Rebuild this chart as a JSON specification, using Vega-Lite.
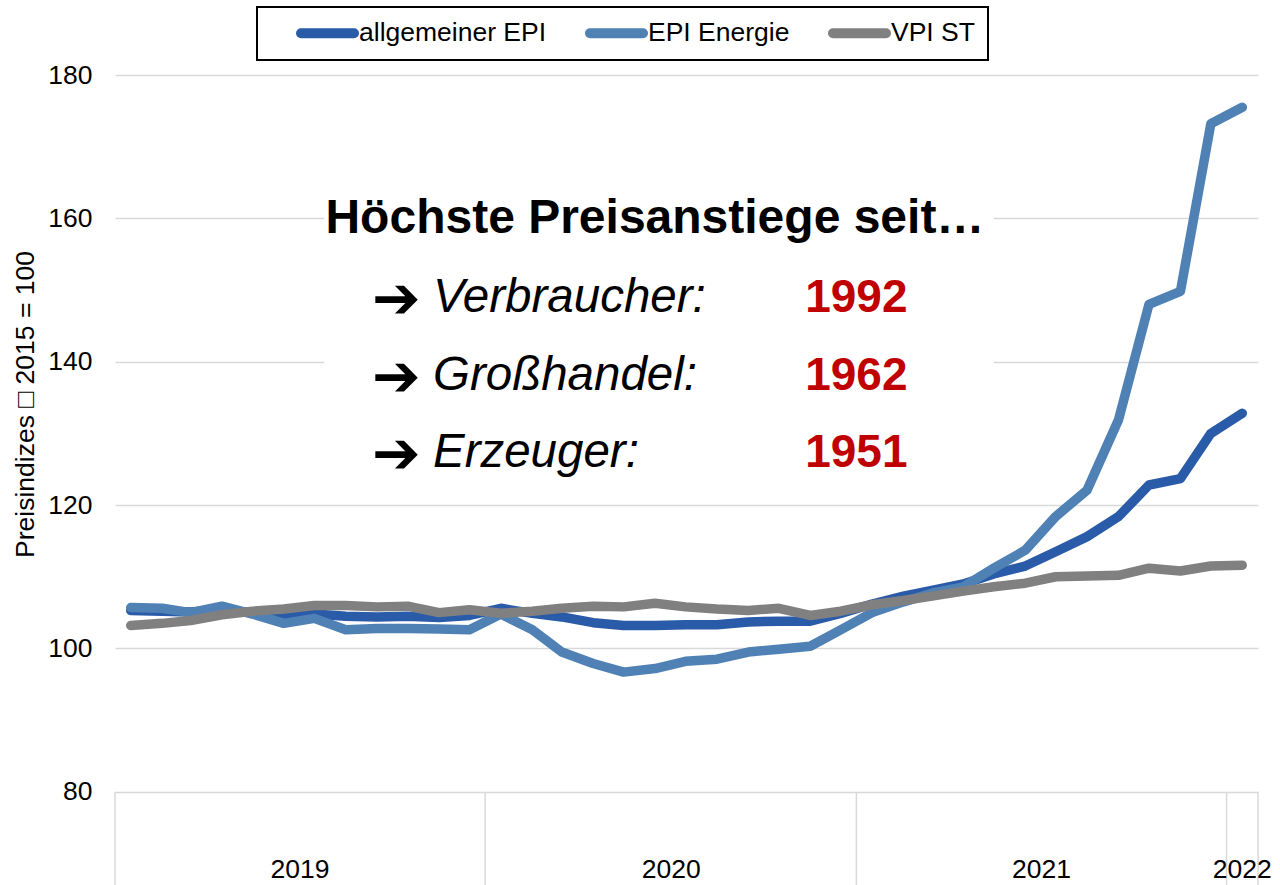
{
  "$schema": "https://vega.github.io/schema/vega-lite/v6.json",
  "width": 1143,
  "height": 810,
  "autosize": {"type": "none"},
  "padding": {"left": 115, "top": 75, "right": 22, "bottom": 0},
  "background": "white",
  "config": {"view": {"stroke": null}, "font": "Liberation Sans"},
  "layer": [
    {
      "data": {"values": [{}]},
      "mark": {"type": "rect", "fill": "white"},
      "encoding": {
        "x": {"datum": {"year": 2019, "month": 7, "date": 11, "utc": true}, "type": "temporal", "scale": {"type": "utc", "domain": [{"year": 2018, "month": 12, "date": 16, "hours": 12, "utc": true}, {"year": 2022, "month": 1, "date": 16, "hours": 12, "utc": true}]}, "axis": null},
        "x2": {"datum": {"year": 2021, "month": 5, "date": 1, "utc": true}},
        "y": {
          "datum": 164.6, "type": "quantitative", "scale": {"domain": [67, 180], "nice": false, "zero": false},
          "axis": {
            "values": [80, 100, 120, 140, 160, 180],
            "title": "Preisindizes □ 2015 = 100",
            "titleFontSize": 26.5, "titleFontWeight": "normal", "titleColor": "#000", "titleFont": "Liberation Sans",
            "titleAngle": -90, "titleX": -90, "titleY": 329, "titleAlign": "center", "titleBaseline": "middle",
            "labelFontSize": 26.5, "labelColor": "#000", "labelFont": "Liberation Sans", "labelPadding": 23,
            "domain": false, "ticks": false, "grid": true, "gridColor": "#D9D9D9", "gridWidth": 1.5
          }
        },
        "y2": {"datum": 123.5}
      }
    },
    {
      "data": {"values": [
        {"Grenze": "2018-12-16T12:00:00Z"},
        {"Grenze": "2019-12-16T12:00:00Z"},
        {"Grenze": "2020-12-16T12:00:00Z"},
        {"Grenze": "2021-12-16T12:00:00Z"},
        {"Grenze": "2022-01-16T12:00:00Z"}
      ]},
      "mark": {"type": "rule", "color": "#D9D9D9", "strokeWidth": 1.5},
      "encoding": {
        "x": {"field": "Grenze", "type": "temporal"},
        "y": {"datum": 80, "type": "quantitative"},
        "y2": {"datum": 67}
      }
    },
    {
      "data": {"values": [
        {"Jahr": "2019", "Mitte": "2019-06-17"},
        {"Jahr": "2020", "Mitte": "2020-06-17"},
        {"Jahr": "2021", "Mitte": "2021-06-17"},
        {"Jahr": "2022", "Mitte": "2022-01-01"}
      ]},
      "mark": {"type": "text", "fontSize": 26.5, "color": "#000", "baseline": "middle", "align": "center"},
      "encoding": {
        "x": {"field": "Mitte", "type": "temporal"},
        "y": {"datum": 69.06, "type": "quantitative"},
        "text": {"field": "Jahr"}
      }
    },
    {
      "data": {"values": [
        {"Monat": "2019-01-01", "allgemeiner EPI": 105.3, "EPI Energie": 105.7, "VPI ST": 103.2},
        {"Monat": "2019-02-01", "allgemeiner EPI": 105.2, "EPI Energie": 105.6, "VPI ST": 103.5},
        {"Monat": "2019-03-01", "allgemeiner EPI": 105.1, "EPI Energie": 105.0, "VPI ST": 103.9},
        {"Monat": "2019-04-01", "allgemeiner EPI": 105.4, "EPI Energie": 105.9, "VPI ST": 104.7},
        {"Monat": "2019-05-01", "allgemeiner EPI": 105.0, "EPI Energie": 104.8, "VPI ST": 105.2},
        {"Monat": "2019-06-01", "allgemeiner EPI": 104.7, "EPI Energie": 103.5, "VPI ST": 105.5},
        {"Monat": "2019-07-01", "allgemeiner EPI": 104.8, "EPI Energie": 104.2, "VPI ST": 106.0},
        {"Monat": "2019-08-01", "allgemeiner EPI": 104.5, "EPI Energie": 102.6, "VPI ST": 106.0},
        {"Monat": "2019-09-01", "allgemeiner EPI": 104.4, "EPI Energie": 102.8, "VPI ST": 105.8},
        {"Monat": "2019-10-01", "allgemeiner EPI": 104.5, "EPI Energie": 102.8, "VPI ST": 105.9},
        {"Monat": "2019-11-01", "allgemeiner EPI": 104.3, "EPI Energie": 102.7, "VPI ST": 105.0},
        {"Monat": "2019-12-01", "allgemeiner EPI": 104.6, "EPI Energie": 102.6, "VPI ST": 105.4},
        {"Monat": "2020-01-01", "allgemeiner EPI": 105.6, "EPI Energie": 104.8, "VPI ST": 104.9},
        {"Monat": "2020-02-01", "allgemeiner EPI": 104.9, "EPI Energie": 102.6, "VPI ST": 105.2},
        {"Monat": "2020-03-01", "allgemeiner EPI": 104.4, "EPI Energie": 99.5, "VPI ST": 105.6},
        {"Monat": "2020-04-01", "allgemeiner EPI": 103.6, "EPI Energie": 97.9, "VPI ST": 105.9},
        {"Monat": "2020-05-01", "allgemeiner EPI": 103.2, "EPI Energie": 96.7, "VPI ST": 105.8},
        {"Monat": "2020-06-01", "allgemeiner EPI": 103.2, "EPI Energie": 97.2, "VPI ST": 106.3},
        {"Monat": "2020-07-01", "allgemeiner EPI": 103.3, "EPI Energie": 98.2, "VPI ST": 105.8},
        {"Monat": "2020-08-01", "allgemeiner EPI": 103.3, "EPI Energie": 98.5, "VPI ST": 105.5},
        {"Monat": "2020-09-01", "allgemeiner EPI": 103.7, "EPI Energie": 99.5, "VPI ST": 105.3},
        {"Monat": "2020-10-01", "allgemeiner EPI": 103.8, "EPI Energie": 99.9, "VPI ST": 105.6},
        {"Monat": "2020-11-01", "allgemeiner EPI": 103.8, "EPI Energie": 100.3, "VPI ST": 104.6},
        {"Monat": "2020-12-01", "allgemeiner EPI": 104.9, "EPI Energie": 102.6, "VPI ST": 105.2},
        {"Monat": "2021-01-01", "allgemeiner EPI": 106.2, "EPI Energie": 105.0, "VPI ST": 106.1},
        {"Monat": "2021-02-01", "allgemeiner EPI": 107.3, "EPI Energie": 106.5, "VPI ST": 106.7},
        {"Monat": "2021-03-01", "allgemeiner EPI": 108.1, "EPI Energie": 107.7, "VPI ST": 107.3},
        {"Monat": "2021-04-01", "allgemeiner EPI": 109.0, "EPI Energie": 108.6, "VPI ST": 108.0},
        {"Monat": "2021-05-01", "allgemeiner EPI": 110.4, "EPI Energie": 111.2, "VPI ST": 108.6},
        {"Monat": "2021-06-01", "allgemeiner EPI": 111.5, "EPI Energie": 113.7, "VPI ST": 109.1},
        {"Monat": "2021-07-01", "allgemeiner EPI": 113.5, "EPI Energie": 118.4, "VPI ST": 110.0},
        {"Monat": "2021-08-01", "allgemeiner EPI": 115.6, "EPI Energie": 122.1, "VPI ST": 110.1},
        {"Monat": "2021-09-01", "allgemeiner EPI": 118.4, "EPI Energie": 131.9, "VPI ST": 110.2},
        {"Monat": "2021-10-01", "allgemeiner EPI": 122.8, "EPI Energie": 148.0, "VPI ST": 111.2},
        {"Monat": "2021-11-01", "allgemeiner EPI": 123.7, "EPI Energie": 149.8, "VPI ST": 110.8},
        {"Monat": "2021-12-01", "allgemeiner EPI": 130.0, "EPI Energie": 173.2, "VPI ST": 111.5},
        {"Monat": "2022-01-01", "allgemeiner EPI": 132.8, "EPI Energie": 175.5, "VPI ST": 111.6}
      ]},
      "transform": [{"fold": ["allgemeiner EPI", "EPI Energie", "VPI ST"], "as": ["Serie", "Wert"]}],
      "mark": {"type": "line", "strokeWidth": 9.5, "strokeCap": "round", "strokeJoin": "round"},
      "encoding": {
        "x": {"field": "Monat", "type": "temporal"},
        "y": {"field": "Wert", "type": "quantitative"},
        "color": {
          "field": "Serie", "type": "nominal",
          "scale": {"domain": ["allgemeiner EPI", "EPI Energie", "VPI ST"], "range": ["#2A5BA8", "#4F81B5", "#808080"]},
          "legend": {
            "orient": "none", "legendX": 142, "legendY": -68, "direction": "horizontal",
            "title": " ", "titleOrient": "left", "titlePadding": 26, "titleFontSize": 26,
            "symbolType": "stroke", "symbolSize": 2809, "symbolStrokeWidth": 10,
            "labelFontSize": 26.5, "labelColor": "#000", "labelFont": "Liberation Sans", "labelOffset": 0, "labelLimit": 400,
            "columnPadding": 38, "padding": 13, "clipHeight": 26, "strokeColor": "#000",
            "encode": {
              "symbols": {"update": {"strokeCap": {"value": "round"}}},
              "legend": {"update": {"strokeWidth": {"value": 2}}}
            }
          }
        }
      }
    },
    {
      "data": {"values": [{}]},
      "mark": {"type": "text", "text": "Höchste Preisanstiege seit…", "fontSize": 48, "fontWeight": "bold", "color": "#000", "align": "left", "baseline": "alphabetic"},
      "encoding": {
        "x": {"datum": {"year": 2019, "month": 7, "date": 12, "utc": true}, "type": "temporal"},
        "y": {"datum": 158, "type": "quantitative"}
      }
    },
    {
      "data": {"values": [{}]},
      "mark": {"type": "text", "text": "➔", "font": "DejaVu Sans", "fontSize": 58, "fontWeight": "bold", "color": "#000", "align": "left", "baseline": "alphabetic"},
      "encoding": {
        "x": {"datum": {"year": 2019, "month": 8, "date": 27, "utc": true}, "type": "temporal"},
        "y": {"datum": 146.1, "type": "quantitative"}
      }
    },
    {
      "data": {"values": [{}]},
      "mark": {"type": "text", "text": "➔", "font": "DejaVu Sans", "fontSize": 58, "fontWeight": "bold", "color": "#000", "align": "left", "baseline": "alphabetic"},
      "encoding": {
        "x": {"datum": {"year": 2019, "month": 8, "date": 27, "utc": true}, "type": "temporal"},
        "y": {"datum": 135.2, "type": "quantitative"}
      }
    },
    {
      "data": {"values": [{}]},
      "mark": {"type": "text", "text": "➔", "font": "DejaVu Sans", "fontSize": 58, "fontWeight": "bold", "color": "#000", "align": "left", "baseline": "alphabetic"},
      "encoding": {
        "x": {"datum": {"year": 2019, "month": 8, "date": 27, "utc": true}, "type": "temporal"},
        "y": {"datum": 124.5, "type": "quantitative"}
      }
    },
    {
      "data": {"values": [{}]},
      "mark": {"type": "text", "text": "Verbraucher:", "fontSize": 47.5, "fontStyle": "italic", "color": "#000", "align": "left", "baseline": "alphabetic"},
      "encoding": {
        "x": {"datum": {"year": 2019, "month": 10, "date": 26, "utc": true}, "type": "temporal"},
        "y": {"datum": 146.9, "type": "quantitative"}
      }
    },
    {
      "data": {"values": [{}]},
      "mark": {"type": "text", "text": "Großhandel:", "fontSize": 47.5, "fontStyle": "italic", "color": "#000", "align": "left", "baseline": "alphabetic"},
      "encoding": {
        "x": {"datum": {"year": 2019, "month": 10, "date": 26, "utc": true}, "type": "temporal"},
        "y": {"datum": 136.1, "type": "quantitative"}
      }
    },
    {
      "data": {"values": [{}]},
      "mark": {"type": "text", "text": "Erzeuger:", "fontSize": 47.5, "fontStyle": "italic", "color": "#000", "align": "left", "baseline": "alphabetic"},
      "encoding": {
        "x": {"datum": {"year": 2019, "month": 10, "date": 26, "utc": true}, "type": "temporal"},
        "y": {"datum": 125.3, "type": "quantitative"}
      }
    },
    {
      "data": {"values": [{}]},
      "mark": {"type": "text", "text": "1992", "fontSize": 46, "fontWeight": "bold", "color": "#C00000", "align": "left", "baseline": "alphabetic"},
      "encoding": {
        "x": {"datum": {"year": 2020, "month": 10, "date": 27, "utc": true}, "type": "temporal"},
        "y": {"datum": 146.9, "type": "quantitative"}
      }
    },
    {
      "data": {"values": [{}]},
      "mark": {"type": "text", "text": "1962", "fontSize": 46, "fontWeight": "bold", "color": "#C00000", "align": "left", "baseline": "alphabetic"},
      "encoding": {
        "x": {"datum": {"year": 2020, "month": 10, "date": 27, "utc": true}, "type": "temporal"},
        "y": {"datum": 136.1, "type": "quantitative"}
      }
    },
    {
      "data": {"values": [{}]},
      "mark": {"type": "text", "text": "1951", "fontSize": 46, "fontWeight": "bold", "color": "#C00000", "align": "left", "baseline": "alphabetic"},
      "encoding": {
        "x": {"datum": {"year": 2020, "month": 10, "date": 27, "utc": true}, "type": "temporal"},
        "y": {"datum": 125.3, "type": "quantitative"}
      }
    }
  ]
}
